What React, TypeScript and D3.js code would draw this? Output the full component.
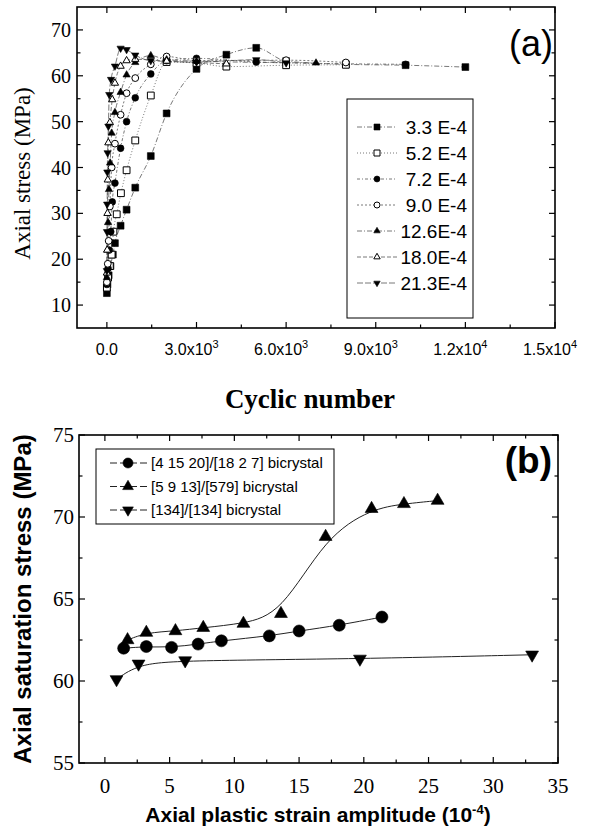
import React from "react";
import * as d3 from "d3";

const W = 592;
const H = 827;
const SERIF = "'Liberation Serif', 'DejaVu Serif', serif";
const SANS = "'Liberation Sans', Arial, sans-serif";

// ---- panel (a): axial stress vs cyclic number, one series per strain amplitude
const legendA = ["3.3 E-4", "5.2 E-4", "7.2 E-4", "9.0 E-4", "12.6E-4", "18.0E-4", "21.3E-4"];
const markerA = ["square", "squareOpen", "circle", "circleOpen", "tri", "triOpen", "triDown"];

const cyc33 = [0, 20, 60, 120, 200, 270, 460, 660, 950, 1470, 2000, 3000, 4000, 5000, 6000, 8000, 10000, 12000];
const str33 = [12.6, 14.5, 16.5, 18.5, 21, 23.5, 27.3, 30.8, 35.6, 42.5, 51.8, 61.5, 64.6, 66.1, 63.2, 62.5, 62.3, 61.9];
const cyc52 = [0, 40, 100, 160, 220, 330, 470, 660, 950, 1470, 2000, 3000, 4000, 6000, 8000];
const str52 = [13.8, 16, 18.5, 21, 26, 29.8, 34.4, 39.4, 45.9, 55.7, 63.0, 62.8, 62.0, 62.3, 62.4];
const cyc72 = [0, 40, 80, 130, 180, 270, 460, 660, 950, 1470, 2000, 3000, 5000, 10000];
const str72 = [14.5, 18, 22, 26, 32.5, 36.6, 44.2, 50, 55.2, 60.4, 63.3, 63.8, 63.0, 62.5];
const cyc90 = [0, 30, 60, 100, 160, 270, 460, 660, 950, 1470, 2000, 3000, 6000, 8000];
const str90 = [15, 19, 24, 31.5, 40, 45.2, 51.5, 56.2, 59.5, 62.5, 64.2, 63.3, 63.4, 62.9];
const cyc126 = [0, 20, 40, 70, 110, 160, 270, 460, 660, 950, 1470, 2000, 3000, 7000];
const str126 = [16, 22, 28, 35.2, 41, 47.5, 52, 56.4, 60.2, 62.9, 64.4, 63.5, 63.2, 62.8];
const cyc180 = [0, 10, 20, 30, 50, 100, 180, 270, 460, 660, 950, 2000, 4000];
const str180 = [17, 22, 30, 37.3, 45.4, 49.8, 54.8, 58.4, 62.1, 63.3, 63.6, 63.2, 62.6];
const cyc213 = [0, 5, 10, 15, 25, 50, 80, 140, 270, 460, 660, 950, 1470, 3000, 5000, 6000];
const str213 = [17.5, 26, 32, 39, 43.2, 49, 55.9, 59.2, 62.1, 66, 65.7, 64.5, 63.3, 63.0, 63.5, 62.8];

const cycTickVals = [0, 3000, 6000, 9000, 12000, 15000];
const cycTickMant = ["0.0", "3.0", "6.0", "9.0", "1.2", "1.5"];
const cycTickExp = ["", "3", "3", "3", "4", "4"];
const stressTicks = [10, 20, 30, 40, 50, 60, 70];

// ---- panel (b): saturation stress vs plastic strain amplitude
const legendB = ["[4 15 20]/[18 2 7] bicrystal", "[5 9 13]/[579] bicrystal", "[134]/[134] bicrystal"];
const markerB = ["circle", "tri", "triDown"];
const ampCirc = [1.45, 3.2, 5.15, 7.2, 9.0, 12.7, 15.0, 18.1, 21.4];
const satCirc = [62.0, 62.1, 62.05, 62.25, 62.45, 62.75, 63.05, 63.4, 63.9];
const ampTri = [1.75, 3.2, 5.45, 7.6, 10.7, 13.6, 17.05, 20.6, 23.1, 25.7];
const satTri = [62.5, 62.95, 63.05, 63.25, 63.5, 64.1, 68.8, 70.5, 70.8, 71.0];
const ampInv = [0.9, 2.6, 6.2, 19.7, 33.0];
const satInv = [60.1, 61.05, 61.25, 61.35, 61.6];
const ampTicks = [0, 5, 10, 15, 20, 25, 30, 35];
const satTicks = [55, 60, 65, 70, 75];

const seriesA = [
  [cyc33, str33], [cyc52, str52], [cyc72, str72], [cyc90, str90],
  [cyc126, str126], [cyc180, str180], [cyc213, str213],
];
const dashA = ["5,2,1,2", "1,2", "3,2,1,2", "2,2", "5,2,1,2", "4,2", "6,2"];
const seriesB = [[ampCirc, satCirc], [ampTri, satTri], [ampInv, satInv]];

function Marker({ kind, x, y, s }: { kind: string; x: number; y: number; s: number }) {
  const open = kind.endsWith("Open");
  const fill = open ? "#fff" : "#000";
  let type: d3.SymbolType = d3.symbolSquare;
  let area = s * s;
  let rot = 0;
  if (kind.startsWith("circle")) {
    type = d3.symbolCircle;
    area = Math.PI * (s / 2) * (s / 2);
  } else if (kind.startsWith("tri")) {
    type = d3.symbolTriangle;
    area = (Math.sqrt(3) / 4) * s * s * 1.15;
    if (kind === "triDown") rot = 180;
  }
  const d = d3.symbol().type(type).size(area)() as string;
  return (
    <path
      d={d}
      transform={`translate(${x},${y}) rotate(${rot})`}
      fill={fill}
      stroke="#000"
      strokeWidth={open ? 1 : 0.6}
    />
  );
}

function Frame({ x0, x1, y0, y1 }: { x0: number; x1: number; y0: number; y1: number }) {
  return <rect x={x0} y={y0} width={x1 - x0} height={y1 - y0} fill="none" stroke="#000" strokeWidth={1.6} />;
}

export default function App() {
  // panel (a) scales
  const xA = d3.scaleLinear().domain([-1000, 15000]).range([77, 555]);
  const yA = d3.scaleLinear().domain([5, 75]).range([328, 7]);
  // panel (b) scales
  const xB = d3.scaleLinear().domain([-2, 35]).range([79, 558]);
  const yB = d3.scaleLinear().domain([55, 75]).range([763, 435]);

  const minorXA = d3.range(1500, 15000, 3000);
  const minorYA = d3.range(15, 75, 10);
  const minorXB = d3.range(2.5, 35, 5);
  const minorYB = d3.range(57.5, 75, 5);

  const [ax0, ax1] = xA.range();
  const [ay1, ay0] = yA.range();
  const [bx0, bx1] = xB.range();
  const [by1, by0] = yB.range();

  const tick = (key: string, x1: number, y1: number, x2: number, y2: number) => (
    <line key={key} x1={x1} y1={y1} x2={x2} y2={y2} stroke="#000" strokeWidth={1.2} />
  );

  return (
    <svg
      width={W}
      height={H}
      viewBox={`0 0 ${W} ${H}`}
      style={{ position: "absolute", left: 0, top: 0, background: "#fff" }}
    >
      <rect width={W} height={H} fill="#fff" />

      {/* ================= panel (a) ================= */}
      {seriesA.map(([xs, ys], i) => {
        const pts = xs.map((x, j) => [xA(x), yA(ys[j])] as [number, number]);
        const gen = d3.line<[number, number]>().curve(d3.curveMonotoneX);
        return (
          <path key={"la" + i} d={gen(pts) as string} fill="none" stroke="#555" strokeWidth={0.8} strokeDasharray={dashA[i]} />
        );
      })}
      {seriesA.map(([xs, ys], i) =>
        xs.map((x, j) => <Marker key={`ma${i}-${j}`} kind={markerA[i]} x={xA(x)} y={yA(ys[j])} s={6.8} />)
      )}

      <Frame x0={ax0} x1={ax1} y0={ay0} y1={ay1} />
      {cycTickVals.map((v) => (
        <g key={"xta" + v}>
          {tick("b", xA(v), ay1, xA(v), ay1 - 6)}
          {tick("t", xA(v), ay0, xA(v), ay0 + 6)}
        </g>
      ))}
      {minorXA.map((v) => (
        <g key={"xma" + v}>
          {tick("b", xA(v), ay1, xA(v), ay1 - 3.5)}
          {tick("t", xA(v), ay0, xA(v), ay0 + 3.5)}
        </g>
      ))}
      {stressTicks.map((v) => (
        <g key={"yta" + v}>
          {tick("l", ax0, yA(v), ax0 + 6, yA(v))}
          {tick("r", ax1, yA(v), ax1 - 6, yA(v))}
        </g>
      ))}
      {minorYA.map((v) => (
        <g key={"yma" + v}>
          {tick("l", ax0, yA(v), ax0 + 3.5, yA(v))}
          {tick("r", ax1, yA(v), ax1 - 3.5, yA(v))}
        </g>
      ))}
      {stressTicks.map((v) => (
        <text key={"ylab" + v} x={ax0 - 6} y={yA(v)} dy="0.35em" textAnchor="end" fontFamily={SERIF} fontSize={20}>
          {v}
        </text>
      ))}
      {cycTickVals.map((v, i) => (
        <text key={"xlab" + v} x={xA(v) - (cycTickExp[i] ? 5 : 0)} y={355} textAnchor="middle" fontFamily={SANS} fontSize={16}>
          {cycTickMant[i]}
          {cycTickExp[i] ? "x10" : ""}
          {cycTickExp[i] ? (
            <tspan dy={-7} fontSize={11}>
              {cycTickExp[i]}
            </tspan>
          ) : null}
        </text>
      ))}
      <text x={310} y={408} textAnchor="middle" fontFamily={SERIF} fontWeight="bold" fontSize={27}>
        Cyclic number
      </text>
      <text transform={`translate(30,${(ay0 + ay1) / 2 + 6}) rotate(-90)`} textAnchor="middle" fontFamily={SERIF} fontSize={23}>
        Axial stress (MPa)
      </text>
      <text x={553} y={56} textAnchor="end" fontFamily={SANS} fontSize={36}>
        (a)
      </text>

      {/* legend (a) */}
      <rect x={347} y={99} width={126} height={219} fill="#fff" stroke="#000" strokeWidth={1} />
      {legendA.map((lab, i) => {
        const y = 127 + 26 * i;
        return (
          <g key={"lga" + i}>
            <line x1={357} x2={397} y1={y} y2={y} stroke="#555" strokeWidth={0.8} strokeDasharray={dashA[i]} />
            <Marker kind={markerA[i]} x={377} y={y} s={6} />
            <text x={467} y={y} dy="0.35em" textAnchor="end" fontFamily={SANS} fontSize={19}>
              {lab}
            </text>
          </g>
        );
      })}

      {/* ================= panel (b) ================= */}
      {seriesB.map(([xs, ys], i) => {
        const pts = xs.map((x, j) => [xB(x), yB(ys[j])] as [number, number]);
        const gen = d3.line<[number, number]>().curve(d3.curveBasis);
        return <path key={"lb" + i} d={gen(pts) as string} fill="none" stroke="#222" strokeWidth={1} />;
      })}
      {seriesB.map(([xs, ys], i) =>
        xs.map((x, j) => <Marker key={`mb${i}-${j}`} kind={markerB[i]} x={xB(x)} y={yB(ys[j])} s={12} />)
      )}

      <Frame x0={bx0} x1={bx1} y0={by0} y1={by1} />
      {ampTicks.map((v) => (
        <g key={"xtb" + v}>
          {tick("b", xB(v), by1, xB(v), by1 - 6)}
          {tick("t", xB(v), by0, xB(v), by0 + 6)}
        </g>
      ))}
      {minorXB.map((v) => (
        <g key={"xmb" + v}>
          {tick("b", xB(v), by1, xB(v), by1 - 3.5)}
          {tick("t", xB(v), by0, xB(v), by0 + 3.5)}
        </g>
      ))}
      {satTicks.map((v) => (
        <g key={"ytb" + v}>
          {tick("l", bx0, yB(v), bx0 + 6, yB(v))}
          {tick("r", bx1, yB(v), bx1 - 6, yB(v))}
        </g>
      ))}
      {minorYB.map((v) => (
        <g key={"ymb" + v}>
          {tick("l", bx0, yB(v), bx0 + 3.5, yB(v))}
          {tick("r", bx1, yB(v), bx1 - 3.5, yB(v))}
        </g>
      ))}
      {satTicks.map((v) => (
        <text key={"yblab" + v} x={bx0 - 5} y={yB(v)} dy="0.35em" textAnchor="end" fontFamily={SERIF} fontSize={21}>
          {v}
        </text>
      ))}
      {ampTicks.map((v) => (
        <text key={"xblab" + v} x={xB(v)} y={793} textAnchor="middle" fontFamily={SERIF} fontSize={21}>
          {v}
        </text>
      ))}
      <text x={318} y={822} textAnchor="middle" fontFamily={SANS} fontWeight="bold" fontSize={21}>
        Axial plastic strain amplitude (10
        <tspan dy={-8} fontSize={13}>-4</tspan>
        <tspan dy={8}>)</tspan>
      </text>
      <text transform={`translate(31,${(by0 + by1) / 2}) rotate(-90)`} textAnchor="middle" fontFamily={SANS} fontWeight="bold" fontSize={24}>
        Axial saturation stress (MPa)
      </text>
      <text x={552} y={473} textAnchor="end" fontFamily={SANS} fontWeight="bold" fontSize={37}>
        (b)
      </text>

      {/* legend (b) */}
      <rect x={96} y={449} width={238} height={75} fill="#fff" stroke="#000" strokeWidth={1} />
      {legendB.map((lab, i) => {
        const y = 463 + 23.5 * i;
        return (
          <g key={"lgb" + i}>
            <line x1={110} x2={147} y1={y} y2={y} stroke="#222" strokeWidth={1} strokeDasharray="7,3" />
            <Marker kind={markerB[i]} x={128} y={y} s={10} />
            <text x={151} y={y} dy="0.35em" fontFamily={SANS} fontSize={15}>
              {lab}
            </text>
          </g>
        );
      })}
    </svg>
  );
}
